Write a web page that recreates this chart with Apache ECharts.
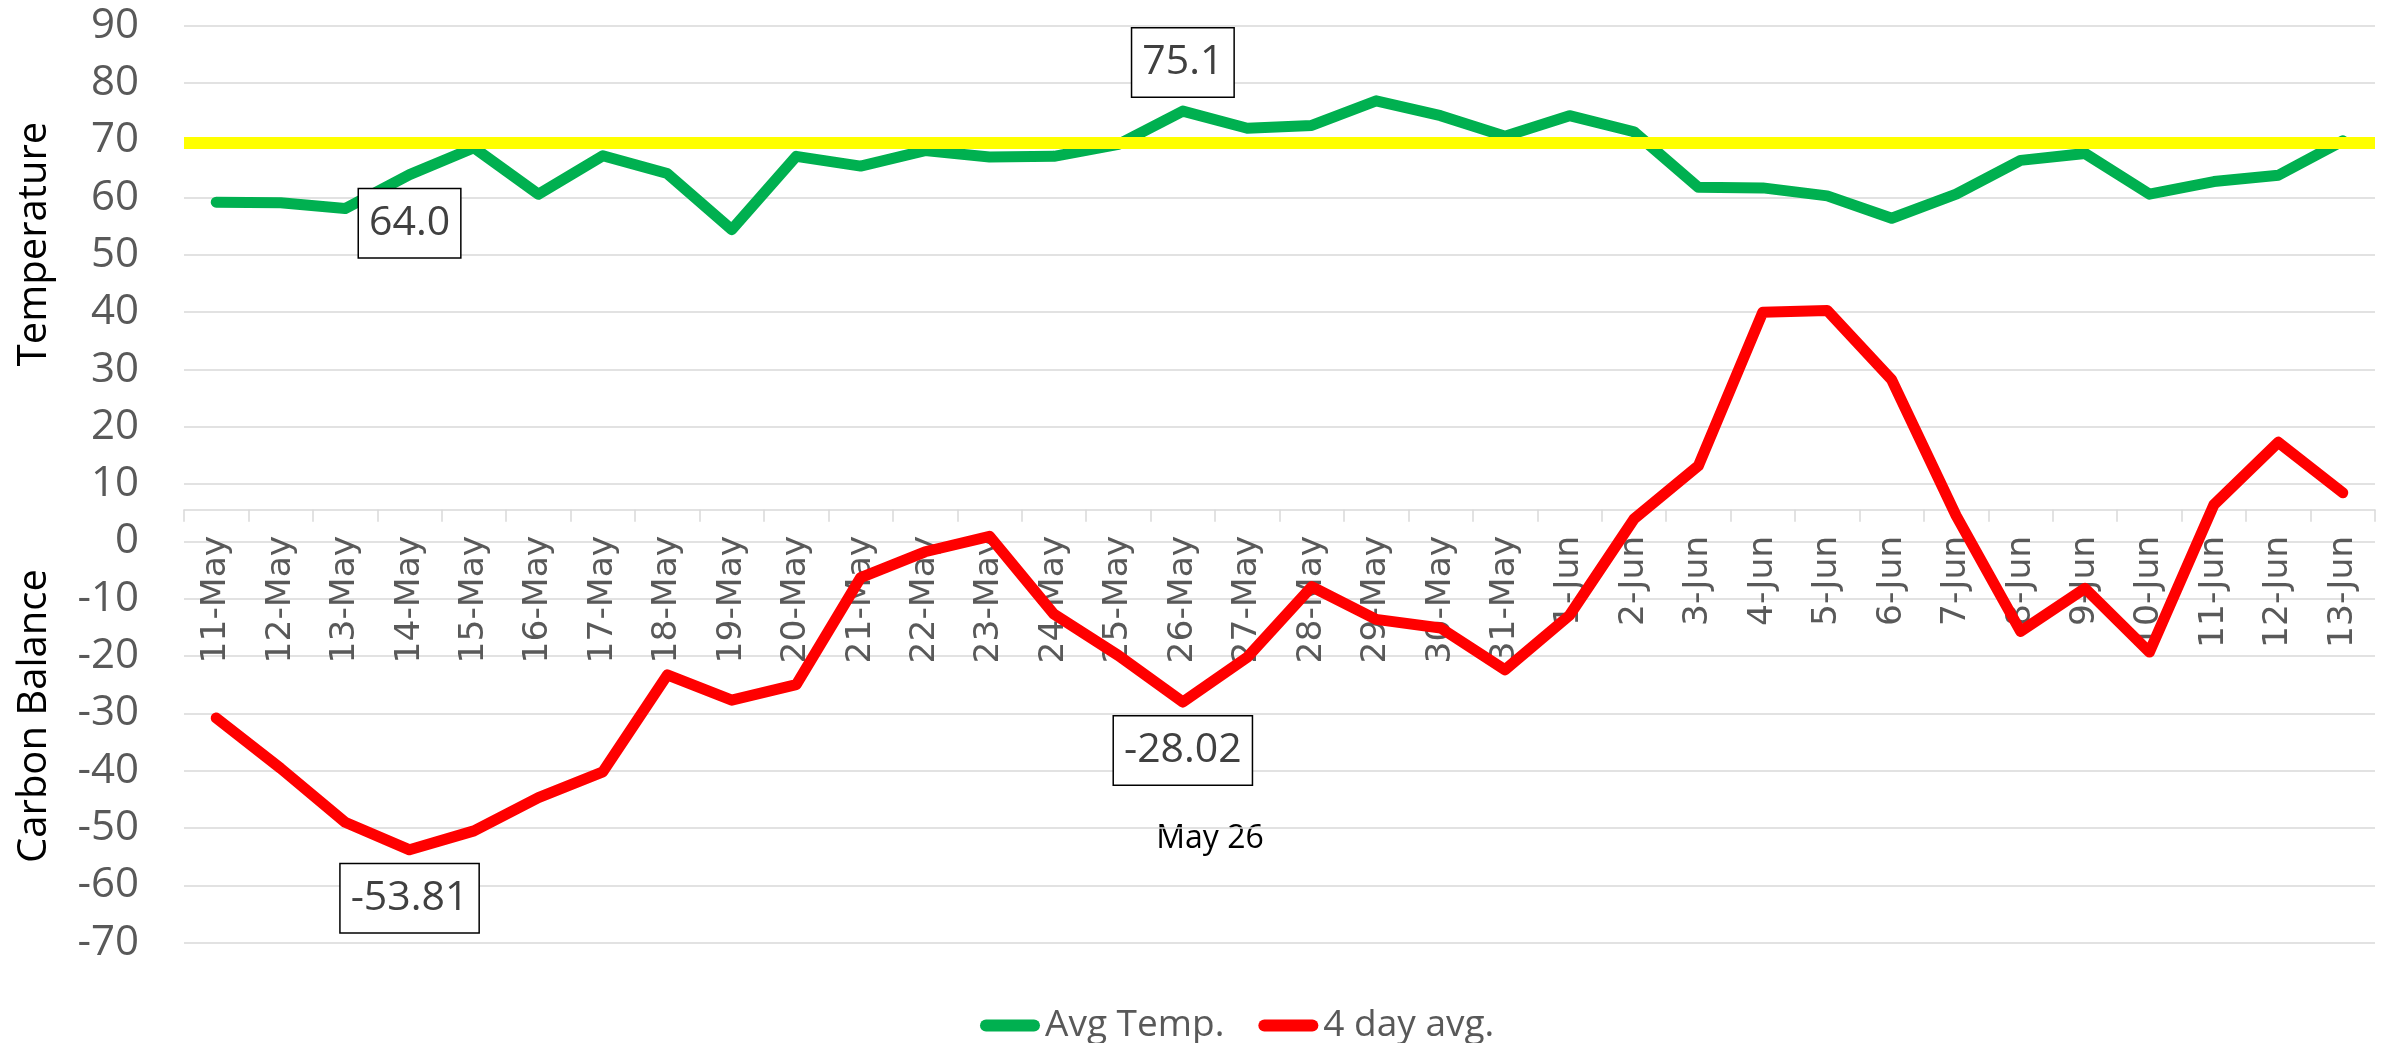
<!DOCTYPE html>
<html>
<head>
<meta charset="utf-8">
<script src="https://cdn.jsdelivr.net/npm/echarts@6/dist/echarts.min.js"></script>
<style>
  html, body { margin: 0; padding: 0; background: #fff; }
  #chart { width: 2392px; height: 1043px; }
</style>
</head>
<body>
<div id="chart"></div>
<script>
// ---- Data ----
const categories = [
  '11-May','12-May','13-May','14-May','15-May','16-May','17-May','18-May','19-May','20-May',
  '21-May','22-May','23-May','24-May','25-May','26-May','27-May','28-May','29-May','30-May','31-May',
  '1-Jun','2-Jun','3-Jun','4-Jun','5-Jun','6-Jun','7-Jun','8-Jun','9-Jun','10-Jun','11-Jun','12-Jun','13-Jun'
];
const avgTemp = [
  59.2, 59.1, 58.1, 64.0, 68.7, 60.6, 67.3, 64.2, 54.4, 67.2,
  65.5, 68.2, 67.1, 67.2, 69.3, 75.1, 72.1, 72.6, 76.9, 74.3, 70.7,
  74.3, 71.5, 61.8, 61.7, 60.3, 56.4, 60.6, 66.5, 67.7, 60.6, 62.8, 63.9, 69.9
];
const fourDayAvg = [
  -30.8, -39.6, -49.0, -53.81, -50.5, -44.7, -40.2, -23.3, -27.7, -25.0,
  -6.3, -1.8, 0.9, -12.7, -19.9, -28.02, -20.2, -7.9, -13.6, -15.1, -22.4,
  -12.9, 3.9, 13.2, 40.0, 40.3, 28.2, 4.5, -15.7, -8.2, -19.3, 6.4, 17.3, 8.5
];
const threshold = 69.5;
const yTicks = { min: -70, max: 90, interval: 10 };
const tempLabels = [ { index: 3, position: 'bottom' }, { index: 15, position: 'top' } ];
const balanceLabels = [ { index: 3, position: 'bottom' }, { index: 15, position: 'bottom' } ];
const annotationText = 'May 26';
const seriesNames = ['Avg Temp.', '4 day avg.'];

// ---- Styles ----
const GRID_COLOR = '#d9d9d9';
const GRID_TOP = 25.7, GRID_HEIGHT = 916.9;
const boxLabel = (pos, digits) => ({
  show: true,
  position: pos,
  distance: 14,
  formatter: p => Number(p.value).toFixed(digits),
  fontFamily: 'Open Sans',
  fontSize: 41,
  lineHeight: 48,
  color: '#404040',
  backgroundColor: '#ffffff',
  borderColor: '#000000',
  borderWidth: 1.5,
  padding: [10, 10, 10, 10]
});
function buildData(values, labels, digits) {
  return values.map((v, i) => {
    const l = labels.find(x => x.index === i);
    if (!l) return v;
    return { value: v, label: boxLabel(l.position, digits) };
  });
}

const chart = echarts.init(document.getElementById('chart'), null, { renderer: 'canvas' });
const option = {
  animation: false,
  backgroundColor: '#ffffff',
  grid: { left: 184, right: 17, top: GRID_TOP, height: GRID_HEIGHT, containLabel: false },
  legend: {
    data: seriesNames,
    left: 975,
    top: 1002,
    itemWidth: 60,
    itemHeight: 12,
    itemGap: 34,
    icon: 'path://M6,0 H54 A6,6 0 0 1 54,12 H6 A6,6 0 0 1 6,0 Z',
    textStyle: { fontFamily: 'Open Sans', fontSize: 37, color: '#595959' },
    selectedMode: false
  },
  xAxis: {
    type: 'category',
    data: categories,
    boundaryGap: true,
    offset: 0,
    axisLine: { onZero: false, lineStyle: { color: GRID_COLOR, width: 1.5 } },
    axisTick: { show: true, length: 12, lineStyle: { color: GRID_COLOR, width: 1.5 } },
    axisLabel: {
      interval: 0,
      rotate: 90,
      margin: 26,
      fontFamily: 'DejaVu Sans',
      fontSize: 34.5,
      color: '#595959'
    },
    splitLine: { show: false }
  },
  yAxis: {
    type: 'value',
    min: yTicks.min,
    max: yTicks.max,
    interval: yTicks.interval,
    axisLine: { show: false },
    axisTick: { show: false },
    axisLabel: { fontFamily: 'Open Sans', fontSize: 42, color: '#595959', margin: 45 },
    splitLine: { show: true, lineStyle: { color: GRID_COLOR, width: 1.5 } }
  },
  series: [
    {
      name: seriesNames[0],
      type: 'line',
      data: buildData(avgTemp, tempLabels, 1),
      symbol: 'circle',
      symbolSize: 1,
      showSymbol: true,
      showAllSymbol: true,
      itemStyle: { color: '#00b050' },
      lineStyle: { color: '#00b050', width: 11, cap: 'round', join: 'round' },
      emphasis: { disabled: true },
      z: 2,
      markLine: {
        silent: true,
        symbol: ['none', 'none'],
        label: { show: false },
        emphasis: { disabled: true },
        lineStyle: { color: '#ffff00', width: 12, type: 'solid' },
        data: [{ yAxis: threshold }]
      }
    },
    {
      name: seriesNames[1],
      type: 'line',
      data: buildData(fourDayAvg, balanceLabels, 2),
      symbol: 'circle',
      symbolSize: 1,
      showSymbol: true,
      showAllSymbol: true,
      itemStyle: { color: '#ff0000' },
      lineStyle: { color: '#ff0000', width: 11, cap: 'round', join: 'round' },
      emphasis: { disabled: true },
      z: 3
    }
  ],
  graphic: [
    {
      type: 'text', x: 35, y: 244, rotation: Math.PI / 2,
      style: { text: 'Temperature', fontFamily: 'Open Sans', fontSize: 40, fill: '#000000', align: 'center', verticalAlign: 'middle' }
    },
    {
      type: 'text', x: 35, y: 716, rotation: Math.PI / 2,
      style: { text: 'Carbon Balance', fontFamily: 'Open Sans', fontSize: 40, fill: '#000000', align: 'center', verticalAlign: 'middle' }
    },
    {
      type: 'text', x: 1210, y: 839,
      style: { text: annotationText, fontFamily: 'Open Sans', fontSize: 32, fill: '#000000', align: 'center', verticalAlign: 'middle' }
    }
  ]
};
chart.setOption(option);
// Place the category axis on the zero line of the value axis (Excel style crossing).
const zeroY = chart.convertToPixel({ yAxisIndex: 0 }, 0);
const bottomY = GRID_TOP + GRID_HEIGHT;
chart.setOption({ xAxis: { offset: -(bottomY - zeroY) } });
</script>
</body>
</html>
